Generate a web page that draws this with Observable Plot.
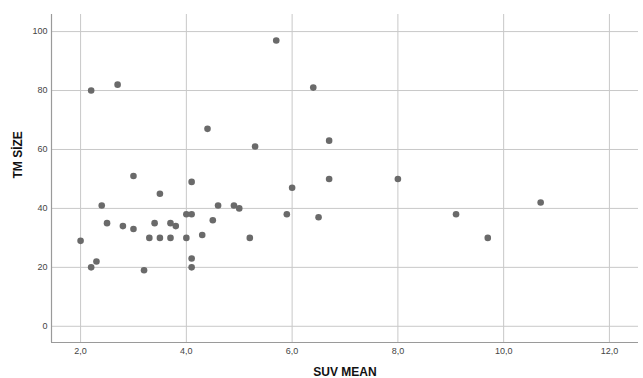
<!DOCTYPE html>
<html>
<head>
<meta charset="utf-8">
<script src="https://cdn.jsdelivr.net/npm/d3@7"></script>
<script src="https://cdn.jsdelivr.net/npm/@observablehq/plot@0.6"></script>
<style>
  html, body { margin: 0; padding: 0; background: #fff; }
  #chart { width: 643px; height: 378px; }
</style>
</head>
<body>
<div id="chart"></div>
<script>
const suvMean = [2.0, 2.2, 2.2, 2.3, 2.4, 2.5, 2.7, 2.8, 3.0, 3.0, 3.2, 3.3, 3.4, 3.5, 3.5, 3.7, 3.7, 3.8, 4.0, 4.0, 4.1, 4.1, 4.1, 4.1, 4.3, 4.4, 4.5, 4.6, 4.9, 5.0, 5.2, 5.3, 5.7, 5.9, 6.0, 6.4, 6.5, 6.7, 6.7, 8.0, 9.1, 9.7, 10.7];
const tmSize  = [29, 20, 80, 22, 41, 35, 82, 34, 51, 33, 19, 30, 35, 45, 30, 35, 30, 34, 38, 30, 38, 49, 23, 20, 31, 67, 36, 41, 41, 40, 30, 61, 97, 38, 47, 81, 37, 63, 50, 50, 38, 30, 42];
const xTicks = [2, 4, 6, 8, 10, 12];
const yTicks = [0, 20, 40, 60, 80, 100];
const xLabel = "SUV MEAN";
const yLabel = "TM SİZE";

const data = suvMean.map((x, i) => ({x, y: tmSize[i]}));
const xDomain = [1.45, 12.55];
const yDomain = [-5.5, 105.8];

const chart = Plot.plot({
  width: 643,
  height: 378,
  marginLeft: 51,
  marginRight: 5,
  marginTop: 14,
  marginBottom: 36,
  style: {fontFamily: "'Liberation Sans', Arial, sans-serif", background: "#fff"},
  x: {domain: xDomain},
  y: {domain: yDomain},
  marks: [
    Plot.gridX(xTicks, {stroke: "#c8c8c8", strokeOpacity: 1, strokeWidth: 1}),
    Plot.gridY(yTicks, {stroke: "#c8c8c8", strokeOpacity: 1, strokeWidth: 1}),
    Plot.ruleX([xDomain[0]], {stroke: "#9a9a9a", strokeWidth: 1.2}),
    Plot.ruleY([yDomain[0]], {stroke: "#9a9a9a", strokeWidth: 1.2}),
    Plot.axisX(xTicks, {tickSize: 0, tickPadding: 5, fontSize: 9, fill: "#444", label: null,
      tickFormat: d => d.toFixed(1).replace(".", ",")}),
    Plot.axisY(yTicks, {tickSize: 0, tickPadding: 4, fontSize: 9, fill: "#444", label: null}),
    Plot.dot(data, {x: "x", y: "y", r: 3.3, fill: "#6a6a6a", stroke: "none"}),
    Plot.text([xLabel], {frameAnchor: "bottom", dy: 33, fontSize: 12, fontWeight: "bold", fill: "#111"}),
    Plot.text([yLabel], {frameAnchor: "left", dx: -33, rotate: -90, fontSize: 12, fontWeight: "bold", fill: "#111"})
  ]
});
document.getElementById("chart").appendChild(chart);
</script>
</body>
</html>
